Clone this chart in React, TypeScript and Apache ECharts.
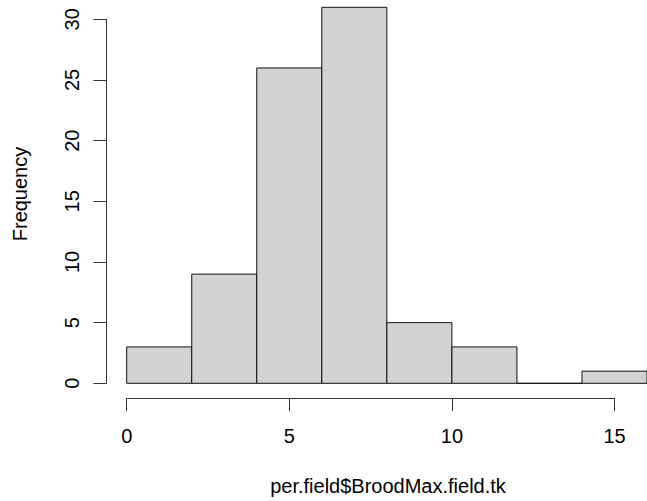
import React, { useEffect, useRef } from "react";
import * as echarts from "echarts";

const binStarts = [0, 2, 4, 6, 8, 10, 12, 14];
const binWidth = 2;
const counts = [3, 9, 26, 31, 5, 3, 0, 1];
const xTicks = [0, 5, 10, 15];
const yTicks = [0, 5, 10, 15, 20, 25, 30];
const xTitle = "per.field$BroodMax.field.tk";
const yTitle = "Frequency";

const FONT = "'Liberation Sans', Arial, sans-serif";
const FS = 20;

export default function App() {
  const ref = useRef<HTMLDivElement>(null);
  useEffect(() => {
    if (!ref.current) return;
    const chart = echarts.init(ref.current, null, { renderer: "svg" });
    const data = binStarts.map((s, i) => [s, s + binWidth, counts[i]]);
    const hidden = { show: false };
    chart.setOption({
      animation: false,
      backgroundColor: "#ffffff",
      grid: [
        { left: 126.7, top: 7.3, width: 520.5, height: 376, containLabel: false },
        { left: 126.7, top: 300, width: 487.9, height: 98.7, containLabel: false },
        { left: 106, top: 19.3, width: 100, height: 364, containLabel: false },
      ],
      xAxis: [
        { gridIndex: 0, type: "value", min: 0, max: 16, axisLine: hidden, axisTick: hidden, axisLabel: hidden, splitLine: hidden },
        {
          gridIndex: 1, type: "value", min: xTicks[0], max: xTicks[xTicks.length - 1], interval: 5, position: "bottom",
          axisLine: { show: true, lineStyle: { color: "#333", width: 1 } },
          axisTick: { show: true, length: 12.5, inside: false, lineStyle: { color: "#333", width: 1 } },
          axisLabel: { show: true, margin: 27, fontSize: FS, color: "#000", fontFamily: FONT },
          splitLine: hidden,
        },
        { gridIndex: 2, type: "value", min: 0, max: 1, show: false },
      ],
      yAxis: [
        { gridIndex: 0, type: "value", min: 0, max: 31, axisLine: hidden, axisTick: hidden, axisLabel: hidden, splitLine: hidden },
        { gridIndex: 1, type: "value", min: 0, max: 1, show: false },
        {
          gridIndex: 2, type: "value", min: yTicks[0], max: yTicks[yTicks.length - 1], interval: 5, position: "left",
          axisLine: { show: true, lineStyle: { color: "#333", width: 1 } },
          axisTick: { show: true, length: 12.5, inside: false, lineStyle: { color: "#333", width: 1 } },
          axisLabel: { show: true, rotate: 90, margin: 24, fontSize: FS, color: "#000", fontFamily: FONT },
          splitLine: hidden,
        },
      ],
      series: [
        {
          type: "custom",
          xAxisIndex: 0,
          yAxisIndex: 0,
          data,
          renderItem: (params: any, api: any) => {
            const x0 = api.value(0);
            const x1 = api.value(1);
            const c = api.value(2);
            const p0 = api.coord([x0, 0]);
            const p1 = api.coord([x1, c]);
            return {
              type: "rect",
              shape: { x: p0[0], y: p1[1], width: p1[0] - p0[0], height: p0[1] - p1[1] },
              style: { fill: "#d3d3d3", stroke: "#111", lineWidth: 1 },
            };
          },
        },
      ],
      graphic: [
        {
          type: "text",
          x: 388,
          y: 486,
          style: { text: xTitle, fontSize: FS, fill: "#000", fontFamily: FONT, align: "center", verticalAlign: "middle" },
        },
        {
          type: "text",
          x: 20,
          y: 194,
          rotation: Math.PI / 2,
          style: { text: yTitle, fontSize: FS, fill: "#000", fontFamily: FONT, align: "center", verticalAlign: "middle" },
        },
      ],
    });
    return () => chart.dispose();
  }, []);
  return <div ref={ref} style={{ width: 647, height: 501, position: "absolute", left: 0, top: 0 }} />;
}
